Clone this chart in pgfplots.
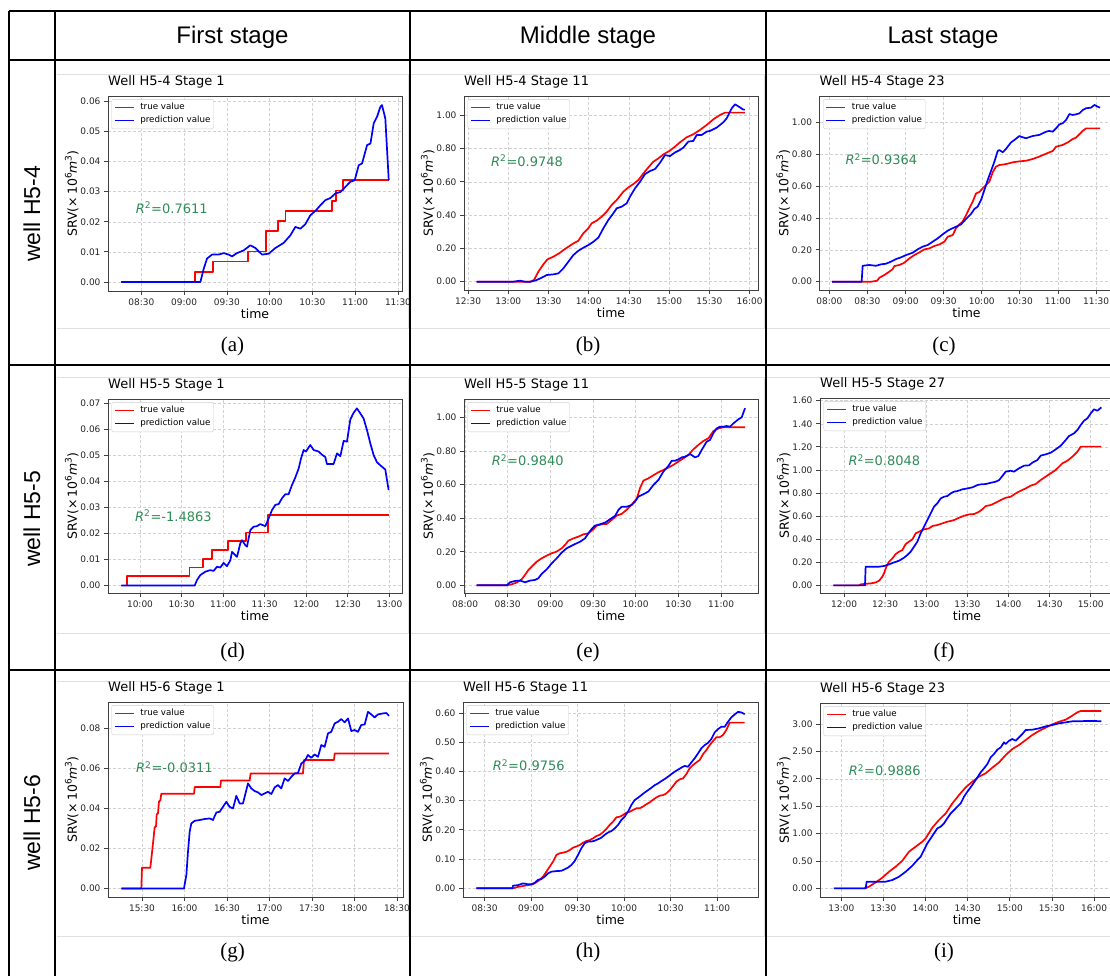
\documentclass[border=0pt]{standalone}
\usepackage{fontspec}
\setmainfont{DejaVu Sans}[ItalicFont={DejaVu Sans Oblique}]
\newfontfamily\arialf{Liberation Sans}
\newfontfamily\timesf{Liberation Serif}
\usepackage{pgfplots}
\pgfplotsset{compat=1.18}
\definecolor{r2green}{HTML}{2E8B57}
\newcommand\legf{\fontsize{8.7}{10}\selectfont}
\newcommand\labf{\fontsize{12.5}{14}\selectfont}
\newcommand\supf{\fontsize{9}{10}\selectfont}
\pgfplotsset{panel/.style={
  width=294pt, height=195pt, scale only axis, anchor=south west,
  axis line style={black!75, line width=0.9pt},
  tick align=outside, major tick length=4pt,
  tick style={black!75, line width=0.8pt},
  tick pos=left,
  grid=major, major grid style={black!18, densely dashed, line width=0.5pt},
  /pgf/number format/assume math mode=true,
  tick label style={font=\fontsize{9}{10}\selectfont, text=black!85},
  scaled y ticks=false,
  yticklabel style={/pgf/number format/.cd, fixed, fixed zerofill, precision=2},
  xlabel={\labf time},
  ylabel={\labf SRV(×\hspace{0.15em}10\raisebox{0.42em}{\supf 6}\textit{m}\raisebox{0.42em}{\supf 3})},
  xlabel style={at={(axis description cs:0.5,0)}, anchor=center, yshift=-23pt, inner sep=0pt},
  ylabel style={at={(axis description cs:-0.123,0.5)}, anchor=center, inner sep=0pt},
  title style={at={(axis description cs:0,1)}, anchor=base west, yshift=5pt, font=\fontsize{13}{15}\selectfont, inner sep=0pt},
  legend cell align=left,
  legend image code/.code={\draw[##1, line width=1.7pt] (0pt,0pt) -- (19pt,0pt);},
  legend image post style={line width=1.7pt},
  legend style={at={(axis description cs:0.012,0.984)}, anchor=north west, draw=black!20, rounded corners=2pt, font=\legf, inner xsep=2.2pt, inner ysep=3pt, row sep=2.5pt, column sep=4.7pt, nodes={inner sep=1pt, text height=6.5pt, text depth=2pt}},
  every axis plot/.append style={line width=1.7pt, mark=none, line join=round},
}}
\tikzset{r2/.style={anchor=west, text=r2green, font=\fontsize{13}{15}\selectfont, inner sep=0pt}}
\newcommand\leg{\legend{\legf true value, \legf prediction value}}
\begin{document}
\begin{tikzpicture}
\useasboundingbox (0pt,0pt) rectangle (1110pt,-975pt);
% light inner frames
\foreach \ya/\yb in {74/328,377/633,681/936}{
  \draw[black!12, line width=0.8pt] (57pt,-\ya pt) -- (1112pt,-\ya pt);
  \draw[black!12, line width=0.8pt] (57pt,-\yb pt) -- (1112pt,-\yb pt);
}
\foreach \xx in {408,764}{
  \draw[black!12, line width=0.8pt] (\xx pt,-74pt) -- (\xx pt,-328pt);
  \draw[black!12, line width=0.8pt] (\xx pt,-377pt) -- (\xx pt,-633pt);
  \draw[black!12, line width=0.8pt] (\xx pt,-681pt) -- (\xx pt,-936pt);
}
% ---------------- (a)
\begin{axis}[panel, at={(108pt,-291pt)}, height=195pt,
  title={Well H5-4 Stage 1},
  xmin=8.11, xmax=11.547, ymin=-0.003, ymax=0.0618,
  xtick={8.5,9,9.5,10,10.5,11,11.5}, xticklabels={08:30,09:00,09:30,10:00,10:30,11:00,11:30},
  ytick={0,0.01,0.02,0.03,0.04,0.05,0.06}]
\addplot[red] coordinates {(8.266,0)(9.131,0)(9.131,0.0034)(9.334,0.0034)(9.334,0.0068)(9.747,0.0068)(9.747,0.0101)(9.961,0.0101)(9.961,0.0169)(10.098,0.0169)(10.098,0.0203)(10.184,0.0203)(10.184,0.0236)(10.729,0.0236)(10.729,0.027)(10.776,0.027)(10.776,0.0304)(10.854,0.0304)(10.854,0.0338)(11.392,0.0338)};
\addplot[blue] coordinates {(8.266,0)(9.190,0)(9.229,0.0044)(9.268,0.0078)(9.326,0.0091)(9.404,0.0091)(9.462,0.0096)(9.521,0.0091)(9.560,0.0085)(9.618,0.0096)(9.696,0.0105)(9.774,0.0122)(9.833,0.0113)(9.911,0.0091)(9.989,0.0094)(10.067,0.0113)(10.164,0.0130)(10.242,0.0155)(10.300,0.0183)(10.359,0.0177)(10.417,0.0192)(10.476,0.0222)(10.534,0.0236)(10.593,0.0255)(10.651,0.0272)(10.710,0.0279)(10.768,0.0294)(10.827,0.0299)(10.885,0.0316)(10.943,0.0333)(10.994,0.0338)(11.041,0.0388)(11.080,0.0394)(11.139,0.0455)(11.178,0.0460)(11.216,0.0527)(11.255,0.0549)(11.294,0.0582)(11.313,0.0588)(11.352,0.0543)(11.392,0.0338)};
\leg
\end{axis}
% ---------------- (b)
\begin{axis}[panel, at={(464pt,-290pt)}, height=194pt,
  title={Well H5-4 Stage 11},
  xmin=12.450, xmax=16.104, ymin=-0.05, ymax=1.116,
  xtick={12.5,13,13.5,14,14.5,15,15.5,16}, xticklabels={12:30,13:00,13:30,14:00,14:30,15:00,15:30,16:00},
  ytick={0,0.2,0.4,0.6,0.8,1.0}]
\addplot[red] coordinates {(12.608,0)(13.271,0)(13.320,0.010)(13.374,0.060)(13.436,0.104)(13.486,0.134)(13.560,0.150)(13.643,0.174)(13.685,0.190)(13.747,0.210)(13.809,0.230)(13.871,0.246)(13.933,0.291)(13.995,0.321)(14.037,0.351)(14.099,0.367)(14.161,0.391)(14.223,0.421)(14.285,0.461)(14.348,0.491)(14.430,0.541)(14.493,0.567)(14.555,0.587)(14.617,0.611)(14.679,0.651)(14.741,0.687)(14.803,0.721)(14.865,0.741)(14.928,0.765)(15.010,0.788)(15.073,0.812)(15.135,0.838)(15.218,0.868)(15.300,0.886)(15.383,0.912)(15.466,0.942)(15.549,0.976)(15.632,1.002)(15.694,1.016)(15.942,1.016)};
\addplot[blue] coordinates {(12.608,0)(13.063,0)(13.146,0.006)(13.208,0)(13.279,0)(13.353,0.010)(13.416,0.024)(13.478,0.040)(13.560,0.044)(13.623,0.050)(13.685,0.080)(13.747,0.120)(13.809,0.160)(13.871,0.186)(13.933,0.204)(13.995,0.220)(14.058,0.240)(14.120,0.265)(14.182,0.321)(14.244,0.371)(14.306,0.411)(14.348,0.441)(14.410,0.451)(14.472,0.471)(14.513,0.511)(14.575,0.561)(14.638,0.601)(14.700,0.647)(14.762,0.665)(14.824,0.677)(14.886,0.715)(14.948,0.761)(15.010,0.755)(15.073,0.777)(15.135,0.792)(15.176,0.806)(15.238,0.842)(15.300,0.846)(15.342,0.882)(15.404,0.882)(15.466,0.902)(15.507,0.906)(15.590,0.926)(15.673,0.958)(15.715,0.982)(15.777,1.042)(15.818,1.066)(15.860,1.054)(15.922,1.034)(15.942,1.034)};
\leg
\end{axis}
% ---------------- (c)
\begin{axis}[panel, at={(819.5pt,-290pt)}, height=194pt,
  title={Well H5-4 Stage 23},
  xmin=7.871, xmax=11.729, ymin=-0.052, ymax=1.165,
  xtick={8,8.5,9,9.5,10,10.5,11,11.5}, xticklabels={08:00,08:30,09:00,09:30,10:00,10:30,11:00,11:30},
  ytick={0,0.2,0.4,0.6,0.8,1.0}]
\addplot[red] coordinates {(8.035,0)(8.547,0)(8.626,0.006)(8.656,0.025)(8.722,0.042)(8.787,0.063)(8.831,0.079)(8.853,0.098)(8.919,0.105)(8.984,0.119)(9.050,0.146)(9.115,0.167)(9.181,0.184)(9.247,0.203)(9.312,0.209)(9.378,0.224)(9.444,0.234)(9.509,0.251)(9.553,0.282)(9.619,0.293)(9.662,0.335)(9.706,0.360)(9.750,0.377)(9.794,0.418)(9.837,0.460)(9.881,0.502)(9.925,0.554)(9.969,0.563)(10.012,0.586)(10.056,0.607)(10.100,0.628)(10.144,0.686)(10.187,0.722)(10.231,0.732)(10.318,0.738)(10.406,0.749)(10.493,0.755)(10.581,0.759)(10.668,0.770)(10.756,0.785)(10.843,0.803)(10.931,0.820)(10.975,0.847)(11.062,0.858)(11.128,0.874)(11.193,0.895)(11.237,0.904)(11.281,0.925)(11.325,0.946)(11.368,0.962)(11.552,0.962)};
\addplot[blue] coordinates {(8.035,0)(8.424,0)(8.437,0.100)(8.525,0.105)(8.612,0.100)(8.678,0.109)(8.744,0.113)(8.809,0.126)(8.875,0.142)(8.941,0.153)(9.006,0.167)(9.094,0.182)(9.159,0.203)(9.225,0.220)(9.290,0.230)(9.356,0.251)(9.422,0.272)(9.487,0.297)(9.553,0.320)(9.597,0.331)(9.662,0.345)(9.728,0.360)(9.794,0.394)(9.859,0.425)(9.903,0.456)(9.947,0.471)(9.991,0.513)(10.034,0.575)(10.078,0.638)(10.122,0.695)(10.166,0.753)(10.209,0.820)(10.231,0.826)(10.275,0.812)(10.318,0.833)(10.384,0.874)(10.428,0.889)(10.493,0.914)(10.537,0.906)(10.581,0.900)(10.668,0.914)(10.756,0.921)(10.843,0.941)(10.887,0.946)(10.931,0.941)(10.975,0.962)(11.018,0.987)(11.062,0.994)(11.106,1.015)(11.150,1.052)(11.193,1.046)(11.237,1.050)(11.281,1.056)(11.325,1.077)(11.368,1.088)(11.434,1.092)(11.478,1.109)(11.521,1.098)(11.552,1.092)};
\leg
\end{axis}
% ---------------- (d)
\begin{axis}[panel, at={(108pt,-593pt)}, height=194pt,
  title={Well H5-5 Stage 1},
  xmin=9.615, xmax=13.152, ymin=-0.0029, ymax=0.0717,
  xtick={10,10.5,11,11.5,12,12.5,13}, xticklabels={10:00,10:30,11:00,11:30,12:00,12:30,13:00},
  ytick={0,0.01,0.02,0.03,0.04,0.05,0.06,0.07}]
\addplot[red] coordinates {(9.775,0)(9.844,0)(9.844,0.0036)(10.597,0.0036)(10.597,0.0069)(10.758,0.0069)(10.758,0.0103)(10.866,0.0103)(10.866,0.0136)(11.059,0.0136)(11.059,0.0171)(11.275,0.0171)(11.275,0.0204)(11.540,0.0204)(11.540,0.0272)(12.991,0.0272)};
\addplot[blue] coordinates {(9.775,0)(10.658,0)(10.686,0.0021)(10.726,0.0040)(10.786,0.0053)(10.846,0.0059)(10.886,0.0056)(10.926,0.0072)(10.966,0.0069)(11.006,0.0087)(11.046,0.0074)(11.087,0.0097)(11.107,0.0129)(11.167,0.0110)(11.207,0.0162)(11.227,0.0174)(11.267,0.0155)(11.287,0.0149)(11.327,0.0213)(11.367,0.0226)(11.407,0.0228)(11.447,0.0236)(11.508,0.0228)(11.548,0.0258)(11.588,0.0290)(11.628,0.0310)(11.668,0.0313)(11.708,0.0335)(11.748,0.0351)(11.788,0.0351)(11.828,0.0386)(11.868,0.0415)(11.909,0.0450)(11.937,0.0488)(11.969,0.0521)(11.997,0.0515)(12.029,0.0531)(12.049,0.0540)(12.089,0.0521)(12.149,0.0515)(12.189,0.0503)(12.229,0.0494)(12.249,0.0467)(12.289,0.0467)(12.329,0.0467)(12.370,0.0508)(12.410,0.0497)(12.450,0.0556)(12.490,0.0553)(12.530,0.0638)(12.570,0.0664)(12.610,0.0681)(12.650,0.0662)(12.690,0.0642)(12.731,0.0597)(12.771,0.0546)(12.811,0.0501)(12.851,0.0474)(12.891,0.0462)(12.951,0.0446)(12.991,0.0367)};
\leg
\end{axis}
% ---------------- (e)
\begin{axis}[panel, at={(464pt,-593pt)}, height=194pt,
  title={Well H5-5 Stage 11},
  xmin=7.988, xmax=11.433, ymin=-0.046, ymax=1.111,
  xtick={8,8.5,9,9.5,10,10.5,11}, xticklabels={08:00,08:30,09:00,09:30,10:00,10:30,11:00},
  ytick={0,0.2,0.4,0.6,0.8,1.0}]
\addplot[red] coordinates {(8.137,0)(8.488,0)(8.547,0.006)(8.605,0.016)(8.664,0.036)(8.703,0.062)(8.742,0.091)(8.781,0.111)(8.840,0.141)(8.898,0.161)(8.957,0.177)(9.016,0.191)(9.074,0.201)(9.133,0.221)(9.172,0.241)(9.211,0.266)(9.270,0.280)(9.328,0.290)(9.387,0.304)(9.445,0.310)(9.504,0.334)(9.543,0.356)(9.602,0.364)(9.660,0.366)(9.719,0.390)(9.777,0.416)(9.836,0.426)(9.895,0.451)(9.953,0.481)(10.012,0.517)(10.051,0.580)(10.090,0.624)(10.148,0.638)(10.207,0.656)(10.266,0.674)(10.324,0.688)(10.383,0.702)(10.441,0.718)(10.500,0.738)(10.559,0.757)(10.617,0.777)(10.676,0.811)(10.734,0.837)(10.793,0.861)(10.852,0.877)(10.910,0.920)(10.969,0.936)(11.027,0.942)(11.281,0.942)};
\addplot[blue] coordinates {(8.137,0)(8.488,0)(8.527,0.018)(8.586,0.026)(8.645,0.028)(8.703,0.018)(8.762,0.028)(8.820,0.032)(8.859,0.042)(8.898,0.068)(8.957,0.095)(9.016,0.131)(9.074,0.161)(9.133,0.195)(9.191,0.221)(9.230,0.231)(9.289,0.246)(9.348,0.260)(9.406,0.280)(9.445,0.310)(9.484,0.336)(9.523,0.356)(9.582,0.364)(9.641,0.374)(9.699,0.394)(9.758,0.414)(9.797,0.449)(9.836,0.469)(9.895,0.469)(9.953,0.479)(9.992,0.499)(10.031,0.529)(10.090,0.543)(10.148,0.559)(10.207,0.598)(10.266,0.628)(10.324,0.678)(10.383,0.712)(10.422,0.743)(10.461,0.743)(10.500,0.751)(10.539,0.763)(10.578,0.767)(10.637,0.783)(10.695,0.763)(10.734,0.771)(10.773,0.807)(10.832,0.857)(10.871,0.867)(10.910,0.907)(10.949,0.936)(10.988,0.946)(11.027,0.946)(11.066,0.950)(11.105,0.946)(11.145,0.966)(11.203,0.990)(11.242,1.002)(11.281,1.056)};
\leg
\end{axis}
% ---------------- (f)
\begin{axis}[panel, at={(820pt,-593pt)}, height=195pt,
  title={Well H5-5 Stage 27},
  xmin=11.708, xmax=15.283, ymin=-0.066, ymax=1.623,
  xtick={12,12.5,13,13.5,14,14.5,15}, xticklabels={12:00,12:30,13:00,13:30,14:00,14:30,15:00},
  ytick={0,0.2,0.4,0.6,0.8,1.0,1.2,1.4,1.6}]
\addplot[red] coordinates {(11.870,0)(12.182,0)(12.203,0.009)(12.263,0.014)(12.324,0.017)(12.385,0.026)(12.426,0.040)(12.466,0.075)(12.486,0.104)(12.515,0.162)(12.547,0.205)(12.588,0.234)(12.628,0.271)(12.669,0.292)(12.709,0.306)(12.750,0.358)(12.790,0.379)(12.831,0.399)(12.872,0.451)(12.912,0.465)(12.973,0.485)(13.034,0.494)(13.074,0.514)(13.135,0.523)(13.196,0.537)(13.257,0.552)(13.297,0.558)(13.338,0.566)(13.398,0.586)(13.459,0.603)(13.520,0.615)(13.581,0.618)(13.642,0.638)(13.682,0.659)(13.723,0.687)(13.784,0.696)(13.844,0.716)(13.905,0.739)(13.966,0.759)(14.027,0.768)(14.088,0.797)(14.148,0.820)(14.209,0.840)(14.270,0.864)(14.331,0.878)(14.392,0.913)(14.452,0.942)(14.513,0.971)(14.574,1.000)(14.615,1.028)(14.655,1.057)(14.716,1.080)(14.777,1.115)(14.838,1.158)(14.878,1.202)(14.939,1.202)(15.129,1.202)};
\addplot[blue] coordinates {(11.870,0)(12.255,0)(12.263,0.162)(12.284,0.162)(12.345,0.162)(12.426,0.162)(12.486,0.168)(12.547,0.182)(12.608,0.199)(12.669,0.214)(12.730,0.240)(12.770,0.263)(12.811,0.292)(12.851,0.335)(12.892,0.379)(12.932,0.451)(12.973,0.508)(13.013,0.566)(13.054,0.624)(13.094,0.682)(13.135,0.711)(13.176,0.754)(13.216,0.768)(13.257,0.774)(13.297,0.797)(13.338,0.812)(13.378,0.817)(13.439,0.832)(13.500,0.840)(13.561,0.849)(13.621,0.869)(13.662,0.875)(13.723,0.878)(13.784,0.889)(13.844,0.898)(13.885,0.912)(13.925,0.947)(13.966,0.985)(14.027,0.993)(14.067,0.985)(14.128,1.014)(14.189,1.037)(14.250,1.040)(14.290,1.063)(14.351,1.086)(14.392,1.124)(14.452,1.135)(14.513,1.149)(14.574,1.178)(14.635,1.210)(14.696,1.259)(14.736,1.294)(14.797,1.317)(14.838,1.346)(14.878,1.389)(14.919,1.427)(14.959,1.447)(15.000,1.490)(15.040,1.525)(15.081,1.513)(15.129,1.542)};
\leg
\end{axis}
% ---------------- (g)
\begin{axis}[panel, at={(108pt,-897pt)}, width=295pt, height=195pt,
  title={Well H5-6 Stage 1},
  xmin=15.1, xmax=18.571, ymin=-0.0043, ymax=0.0932,
  xtick={15.5,16,16.5,17,17.5,18,18.5}, xticklabels={15:30,16:00,16:30,17:00,17:30,18:00,18:30},
  ytick={0,0.02,0.04,0.06,0.08}]
\addplot[red] coordinates {(15.257,0)(15.492,0)(15.5,0.0103)(15.598,0.0103)(15.618,0.0180)(15.633,0.0240)(15.649,0.0305)(15.665,0.0310)(15.673,0.0370)(15.688,0.0375)(15.700,0.0435)(15.716,0.0440)(15.727,0.0473)(16.112,0.0473)(16.120,0.0507)(16.422,0.0507)(16.429,0.0540)(16.767,0.0540)(16.778,0.0575)(17.394,0.0575)(17.406,0.0642)(17.759,0.0642)(17.767,0.0675)(18.406,0.0675)};
\addplot[blue] coordinates {(15.257,0)(15.994,0)(16.022,0.0067)(16.041,0.0183)(16.061,0.0283)(16.080,0.0325)(16.120,0.0338)(16.178,0.0342)(16.237,0.0347)(16.296,0.0350)(16.335,0.0342)(16.375,0.0380)(16.414,0.0383)(16.453,0.0408)(16.492,0.0433)(16.531,0.0408)(16.571,0.0400)(16.610,0.0463)(16.649,0.0425)(16.688,0.0425)(16.747,0.0525)(16.786,0.0500)(16.825,0.0487)(16.865,0.0480)(16.904,0.0467)(16.943,0.0475)(16.982,0.0483)(17.022,0.0472)(17.061,0.0505)(17.100,0.0517)(17.139,0.0500)(17.178,0.0550)(17.218,0.0537)(17.257,0.0558)(17.296,0.0575)(17.335,0.0577)(17.375,0.0625)(17.414,0.0637)(17.453,0.0667)(17.492,0.0653)(17.531,0.0670)(17.571,0.0658)(17.610,0.0717)(17.649,0.0708)(17.688,0.0775)(17.727,0.0783)(17.767,0.0825)(17.806,0.0833)(17.845,0.0847)(17.884,0.0830)(17.924,0.0850)(17.963,0.0787)(18.002,0.0792)(18.041,0.0783)(18.080,0.0817)(18.120,0.0820)(18.159,0.0883)(18.198,0.0870)(18.237,0.0855)(18.276,0.0870)(18.335,0.0875)(18.375,0.0877)(18.406,0.0863)};
\leg
\end{axis}
% ---------------- (h)
\begin{axis}[panel, at={(463pt,-897pt)}, width=295pt, height=195pt,
  title={Well H5-6 Stage 11},
  xmin=8.267, xmax=11.441, ymin=-0.0297, ymax=0.6376,
  xtick={8.5,9,9.5,10,10.5,11}, xticklabels={08:30,09:00,09:30,10:00,10:30,11:00},
  ytick={0,0.1,0.2,0.3,0.4,0.5,0.6}]
\addplot[red] coordinates {(8.410,0)(8.805,0)(8.859,0.005)(8.912,0.008)(8.966,0.011)(9.020,0.014)(9.056,0.021)(9.092,0.029)(9.128,0.040)(9.164,0.057)(9.199,0.074)(9.235,0.091)(9.271,0.114)(9.307,0.120)(9.343,0.122)(9.379,0.125)(9.415,0.131)(9.450,0.139)(9.486,0.143)(9.522,0.148)(9.558,0.156)(9.594,0.162)(9.630,0.165)(9.666,0.171)(9.702,0.179)(9.737,0.183)(9.773,0.192)(9.809,0.203)(9.845,0.217)(9.881,0.228)(9.917,0.243)(9.953,0.245)(9.989,0.251)(10.024,0.259)(10.060,0.262)(10.096,0.268)(10.132,0.274)(10.168,0.274)(10.204,0.280)(10.240,0.288)(10.275,0.294)(10.311,0.303)(10.347,0.311)(10.383,0.317)(10.419,0.319)(10.455,0.325)(10.491,0.336)(10.527,0.350)(10.562,0.365)(10.598,0.373)(10.634,0.376)(10.670,0.391)(10.706,0.411)(10.742,0.422)(10.778,0.431)(10.813,0.439)(10.849,0.459)(10.885,0.473)(10.921,0.490)(10.957,0.504)(10.993,0.517)(11.029,0.517)(11.065,0.525)(11.100,0.542)(11.136,0.567)(11.298,0.567)};
\addplot[blue] coordinates {(8.410,0)(8.798,0)(8.805,0.009)(8.859,0.011)(8.912,0.017)(8.966,0.014)(9.002,0.014)(9.038,0.019)(9.074,0.029)(9.110,0.032)(9.146,0.040)(9.181,0.051)(9.217,0.057)(9.271,0.059)(9.325,0.060)(9.361,0.065)(9.397,0.071)(9.433,0.080)(9.468,0.093)(9.504,0.114)(9.540,0.137)(9.576,0.154)(9.612,0.160)(9.648,0.160)(9.684,0.163)(9.720,0.168)(9.755,0.173)(9.791,0.183)(9.827,0.191)(9.863,0.196)(9.899,0.205)(9.935,0.217)(9.971,0.234)(10.006,0.245)(10.042,0.262)(10.078,0.285)(10.114,0.302)(10.150,0.310)(10.186,0.319)(10.222,0.328)(10.258,0.336)(10.293,0.344)(10.329,0.353)(10.365,0.359)(10.401,0.367)(10.437,0.374)(10.473,0.382)(10.509,0.391)(10.544,0.399)(10.580,0.406)(10.616,0.413)(10.652,0.419)(10.688,0.416)(10.724,0.431)(10.760,0.445)(10.796,0.462)(10.831,0.479)(10.867,0.490)(10.903,0.498)(10.939,0.511)(10.975,0.534)(11.011,0.545)(11.047,0.553)(11.083,0.553)(11.118,0.570)(11.154,0.585)(11.190,0.595)(11.226,0.604)(11.262,0.602)(11.298,0.596)};
\leg
\end{axis}
% ---------------- (i)
\begin{axis}[panel, at={(820pt,-897pt)}, height=194pt,
  title={Well H5-6 Stage 23},
  xmin=12.747, xmax=16.237, ymin=-0.158, ymax=3.384,
  xtick={13,13.5,14,14.5,15,15.5,16}, xticklabels={13:00,13:30,14:00,14:30,15:00,15:30,16:00},
  ytick={0,0.5,1,1.5,2,2.5,3}]
\addplot[red] coordinates {(12.913,0)(13.269,0)(13.328,0.030)(13.408,0.110)(13.487,0.195)(13.566,0.304)(13.645,0.396)(13.724,0.505)(13.803,0.669)(13.882,0.761)(13.961,0.852)(14.001,0.913)(14.080,1.108)(14.159,1.248)(14.239,1.369)(14.318,1.552)(14.397,1.704)(14.476,1.844)(14.555,1.948)(14.634,2.039)(14.713,2.100)(14.792,2.203)(14.872,2.300)(14.951,2.434)(15.030,2.544)(15.109,2.617)(15.188,2.708)(15.267,2.800)(15.346,2.873)(15.425,2.934)(15.504,2.994)(15.584,3.043)(15.663,3.080)(15.742,3.153)(15.802,3.214)(15.841,3.238)(16.087,3.238)};
\addplot[blue] coordinates {(12.913,0)(13.289,0)(13.301,0.122)(13.368,0.122)(13.447,0.122)(13.526,0.122)(13.605,0.152)(13.685,0.213)(13.764,0.304)(13.843,0.414)(13.902,0.517)(13.942,0.578)(13.981,0.700)(14.021,0.822)(14.061,0.913)(14.100,1.004)(14.140,1.096)(14.179,1.126)(14.219,1.187)(14.258,1.278)(14.298,1.369)(14.338,1.430)(14.377,1.491)(14.417,1.552)(14.456,1.674)(14.496,1.765)(14.535,1.844)(14.575,1.935)(14.615,2.026)(14.654,2.118)(14.694,2.191)(14.733,2.270)(14.773,2.392)(14.812,2.453)(14.852,2.532)(14.892,2.574)(14.931,2.666)(14.951,2.635)(14.991,2.696)(15.030,2.727)(15.070,2.696)(15.109,2.757)(15.149,2.818)(15.188,2.891)(15.267,2.897)(15.346,2.921)(15.425,2.958)(15.504,2.982)(15.584,3.013)(15.663,3.031)(15.742,3.050)(15.822,3.050)(15.901,3.056)(16.000,3.056)(16.087,3.050)};
\leg
\end{axis}
% R^2 labels
\node[r2] at (135.7pt,-207.7pt) {\textit{R}\textsuperscript{2}=0.7611};
\node[r2] at (491pt,-160.7pt) {\textit{R}\textsuperscript{2}=0.9748};
\node[r2] at (845.3pt,-159.3pt) {\textit{R}\textsuperscript{2}=0.9364};
\node[r2] at (135pt,-515.7pt) {\textit{R}\textsuperscript{2}=-1.4863};
\node[r2] at (491.7pt,-460pt) {\textit{R}\textsuperscript{2}=0.9840};
\node[r2] at (848.3pt,-460pt) {\textit{R}\textsuperscript{2}=0.8048};
\node[r2] at (136pt,-767.3pt) {\textit{R}\textsuperscript{2}=-0.0311};
\node[r2] at (492.7pt,-765pt) {\textit{R}\textsuperscript{2}=0.9756};
\node[r2] at (848.7pt,-770pt) {\textit{R}\textsuperscript{2}=0.9886};
% table grid
\begin{scope}[line width=2pt, black]
\draw (9pt,-11pt) -- (1112pt,-11pt);
\draw (9pt,-59.5pt) -- (1112pt,-59.5pt);
\draw (9pt,-365pt) -- (1112pt,-365pt);
\draw (9pt,-670pt) -- (1112pt,-670pt);
\draw (9pt,-11pt) -- (9pt,-977pt);
\draw (54.5pt,-11pt) -- (54.5pt,-977pt);
\draw (410pt,-11pt) -- (410pt,-977pt);
\draw (766pt,-11pt) -- (766pt,-977pt);
\end{scope}
% headers
\node[font=\arialf\fontsize{24}{28}\selectfont] at (232.5pt,-37.5pt) {First stage};
\node[font=\arialf\fontsize{24}{28}\selectfont] at (588pt,-37.5pt) {Middle stage};
\node[font=\arialf\fontsize{24}{28}\selectfont] at (943pt,-37.5pt) {Last stage};
\node[rotate=90, font=\arialf\fontsize{23}{26}\selectfont] at (32pt,-214pt) {well H5-4};
\node[rotate=90, font=\arialf\fontsize{23}{26}\selectfont] at (32pt,-519pt) {well H5-5};
\node[rotate=90, font=\arialf\fontsize{23}{26}\selectfont] at (32pt,-823pt) {well H5-6};
% sub captions
\foreach \x/\y/\t in {232.5/346/a,588/346/b,944/346/c,232.5/652/d,588/652/e,944/652/f,232.5/952.5/g,588/952.5/h,944/952.5/i}{
  \node[font=\timesf\fontsize{21}{24}\selectfont] at (\x pt,-\y pt) {(\t)};
}
\end{tikzpicture}
\end{document}
